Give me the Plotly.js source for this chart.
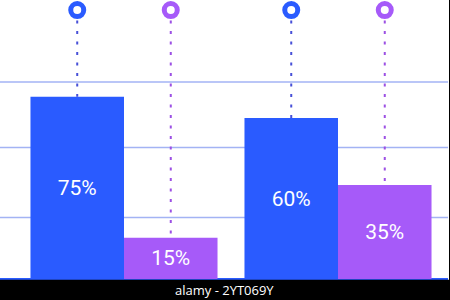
<!DOCTYPE html>
<html>
<head>
<meta charset="utf-8">
<script src="https://cdn.plot.ly/plotly-3.0.1.min.js"></script>
<style>html,body{margin:0;padding:0;background:#fff;}#chart{width:450px;height:300px;}</style>
</head>
<body>
<div id="chart"></div>
<script>
// Data
var groups = [0, 1];
var seriesA = [65.3, 57.7];          // blue bar heights (axis units)
var seriesB = [14.8, 33.7];          // purple bar heights (axis units)
var labelsA = ["75%", "60%"];
var labelsB = ["15%", "35%"];
var gridVals = [22.0, 47.1, 70.6];
var pinLevel = [96.4, 96.4];

var blue = "#2a5bff", purple = "#a65af9";
var blueDot = "#4750d8", purpleDot = "#9c50e4";
var gridColor = "#a3b3f4";
var bargap = 0.126;
var off = (1 - bargap) / 4;

function stems(vals, sign) {
  var xs = [], ys = [];
  groups.forEach(function (g, i) {
    xs.push(g + sign * off, g + sign * off, null);
    ys.push(pinLevel[i], vals[i], null);
  });
  return {x: xs, y: ys};
}
var sA = stems(seriesA, -1), sB = stems(seriesB, 1);

var traces = [
  {type: "scatter", mode: "lines", x: sA.x, y: sA.y, line: {color: blueDot, width: 2, dash: "3px,7.5px"}, hoverinfo: "skip"},
  {type: "scatter", mode: "lines", x: sB.x, y: sB.y, line: {color: purpleDot, width: 2, dash: "3px,7.5px"}, hoverinfo: "skip"},
  {type: "bar", x: groups, y: seriesA, marker: {color: blue}, text: labelsA, textposition: "inside", insidetextanchor: "middle", textangle: 0,
   textfont: {color: "#ffffff", size: 21, family: "Roboto"}},
  {type: "bar", x: groups, y: seriesB, marker: {color: purple}, text: labelsB, textposition: "inside", insidetextanchor: "middle", textangle: 0,
   textfont: {color: "#ffffff", size: 21, family: "Roboto"}},
  {type: "scatter", mode: "markers", x: groups.map(function (g) { return g - off; }), y: pinLevel,
   marker: {size: 13, color: "#ffffff", line: {color: blue, width: 5}}, cliponaxis: false},
  {type: "scatter", mode: "markers", x: groups.map(function (g) { return g + off; }), y: pinLevel,
   marker: {size: 13, color: "#ffffff", line: {color: purple, width: 5}}, cliponaxis: false}
];

var shapes = gridVals.map(function (v) {
  return {type: "line", xref: "paper", yref: "y", x0: 0, x1: 1, y0: v, y1: v, line: {color: gridColor, width: 1.5}, layer: "below"};
});
shapes.push(
  {type: "rect", xref: "paper", yref: "paper", x0: -0.01, x1: 1.02, y0: -0.08, y1: -0.0025, fillcolor: "#000000", line: {width: 0}, layer: "above"},
  {type: "line", xref: "paper", yref: "paper", x0: 449.5/448, x1: 449.5/448, y0: -0.08, y1: 1.01, line: {color: "#000000", width: 1}}
);

var layout = {
  width: 450, height: 300,
  margin: {l: 0, r: 2, t: 0, b: 21, pad: 0},
  paper_bgcolor: "#ffffff", plot_bgcolor: "#ffffff",
  showlegend: false,
  barmode: "group", bargap: bargap, bargroupgap: 0,
  xaxis: {range: [-0.5794, 1.514], showgrid: false, zeroline: false, showticklabels: false, ticks: "", fixedrange: true},
  yaxis: {range: [0, 100], showgrid: false, showticklabels: false, ticks: "",
          zeroline: true, zerolinecolor: blue, zerolinewidth: 2, fixedrange: true},
  shapes: shapes,
  annotations: [
    {xref: "paper", yref: "paper", x: 0.5, y: -0.038, text: "alamy - 2YT069Y", showarrow: false,
     font: {color: "#ffffff", size: 13, family: "Open Sans"}, xanchor: "center", yanchor: "middle"}
  ]
};

Plotly.newPlot("chart", traces, layout, {displayModeBar: false, staticPlot: true});
</script>
</body>
</html>
